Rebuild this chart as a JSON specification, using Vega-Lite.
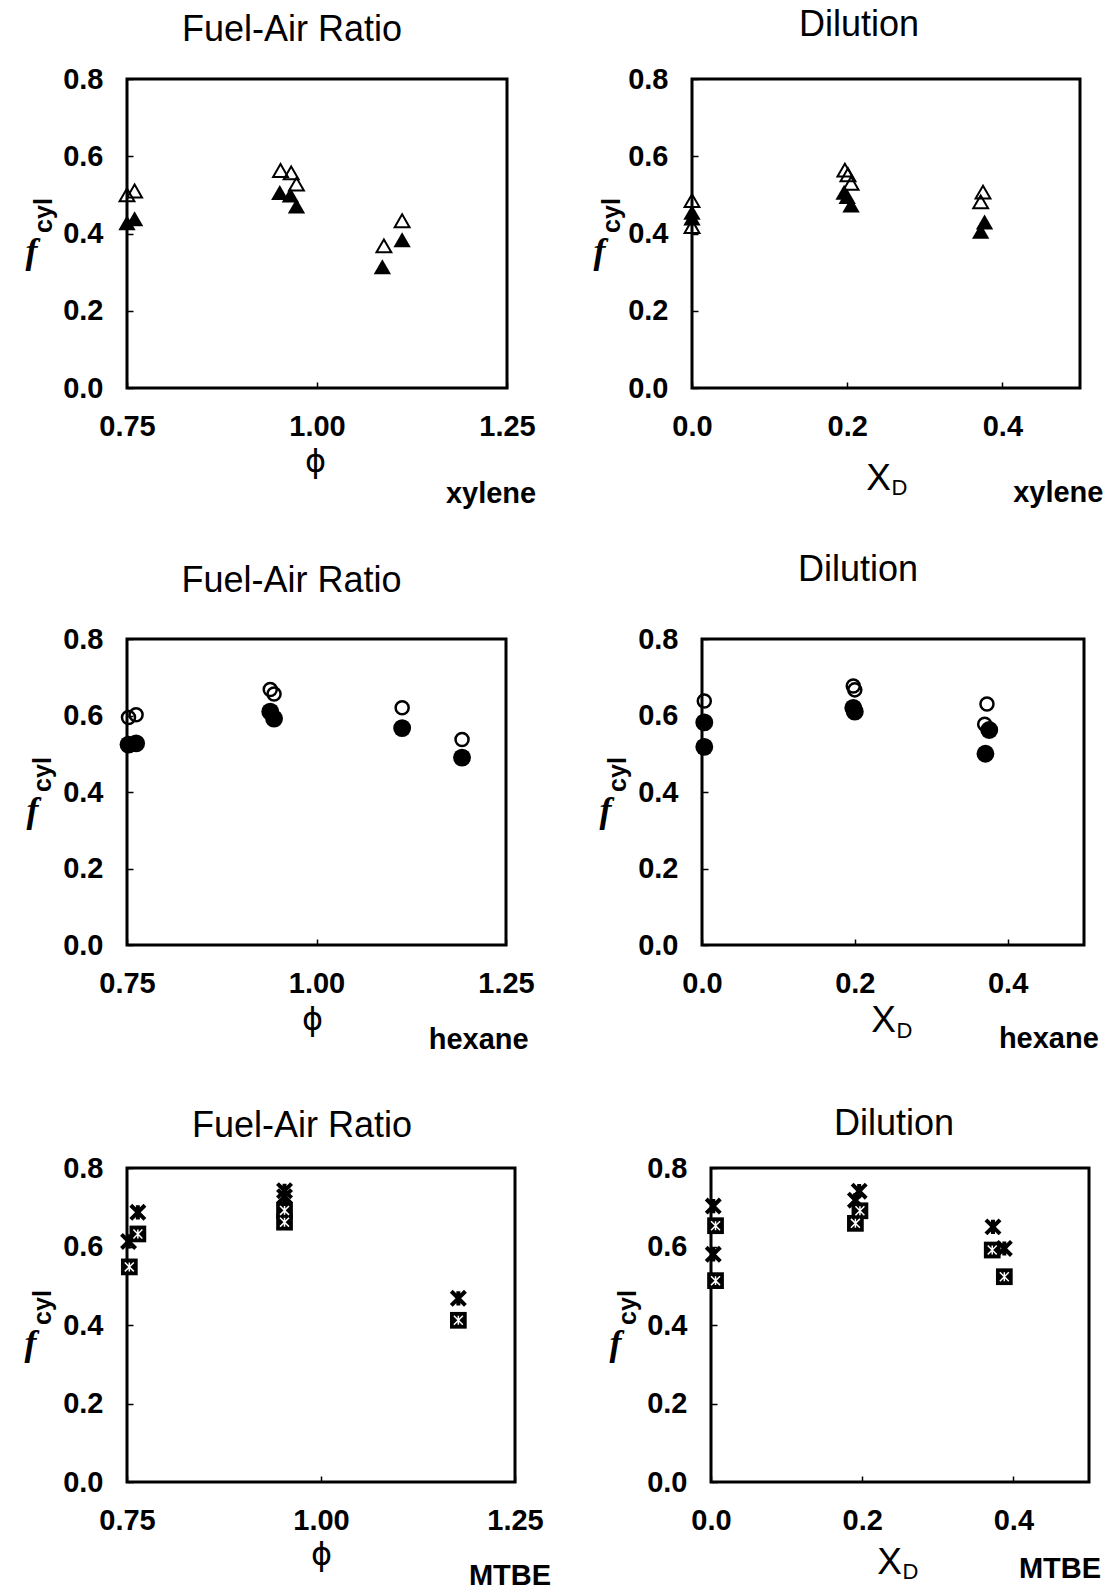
{
  "$schema": "https://vega.github.io/schema/vega-lite/v6.json",
  "background": "white",
  "padding": {"left": 22, "top": 5, "right": 4, "bottom": 4},
  "datasets": {
    "xylene_phi": [
      {"phi": 0.750, "fcyl": 0.500, "set": "open"},
      {"phi": 0.760, "fcyl": 0.510, "set": "open"},
      {"phi": 0.952, "fcyl": 0.563, "set": "open"},
      {"phi": 0.966, "fcyl": 0.557, "set": "open"},
      {"phi": 0.973, "fcyl": 0.528, "set": "open"},
      {"phi": 1.088, "fcyl": 0.368, "set": "open"},
      {"phi": 1.112, "fcyl": 0.433, "set": "open"},
      {"phi": 0.750, "fcyl": 0.428, "set": "filled"},
      {"phi": 0.760, "fcyl": 0.438, "set": "filled"},
      {"phi": 0.951, "fcyl": 0.506, "set": "filled"},
      {"phi": 0.965, "fcyl": 0.500, "set": "filled"},
      {"phi": 0.973, "fcyl": 0.471, "set": "filled"},
      {"phi": 1.086, "fcyl": 0.314, "set": "filled"},
      {"phi": 1.112, "fcyl": 0.384, "set": "filled"}
    ],
    "xylene_xd": [
      {"xd": 0.000, "fcyl": 0.485, "set": "open"},
      {"xd": 0.000, "fcyl": 0.418, "set": "open"},
      {"xd": 0.197, "fcyl": 0.564, "set": "open"},
      {"xd": 0.201, "fcyl": 0.552, "set": "open"},
      {"xd": 0.205, "fcyl": 0.530, "set": "open"},
      {"xd": 0.375, "fcyl": 0.507, "set": "open"},
      {"xd": 0.372, "fcyl": 0.482, "set": "open"},
      {"xd": 0.000, "fcyl": 0.455, "set": "filled"},
      {"xd": 0.000, "fcyl": 0.440, "set": "filled"},
      {"xd": 0.196, "fcyl": 0.507, "set": "filled"},
      {"xd": 0.200, "fcyl": 0.496, "set": "filled"},
      {"xd": 0.205, "fcyl": 0.474, "set": "filled"},
      {"xd": 0.377, "fcyl": 0.430, "set": "filled"},
      {"xd": 0.372, "fcyl": 0.406, "set": "filled"}
    ],
    "hexane_phi": [
      {"phi": 0.752, "fcyl": 0.595, "set": "open"},
      {"phi": 0.762, "fcyl": 0.602, "set": "open"},
      {"phi": 0.939, "fcyl": 0.668, "set": "open"},
      {"phi": 0.944, "fcyl": 0.656, "set": "open"},
      {"phi": 1.113, "fcyl": 0.620, "set": "open"},
      {"phi": 1.192, "fcyl": 0.537, "set": "open"},
      {"phi": 0.752, "fcyl": 0.524, "set": "filled"},
      {"phi": 0.762, "fcyl": 0.527, "set": "filled"},
      {"phi": 0.939, "fcyl": 0.610, "set": "filled"},
      {"phi": 0.944, "fcyl": 0.592, "set": "filled"},
      {"phi": 1.113, "fcyl": 0.567, "set": "filled"},
      {"phi": 1.192, "fcyl": 0.490, "set": "filled"}
    ],
    "hexane_xd": [
      {"xd": 0.003, "fcyl": 0.638, "set": "open"},
      {"xd": 0.198, "fcyl": 0.677, "set": "open"},
      {"xd": 0.200, "fcyl": 0.667, "set": "open"},
      {"xd": 0.373, "fcyl": 0.630, "set": "open"},
      {"xd": 0.370, "fcyl": 0.577, "set": "open"},
      {"xd": 0.003, "fcyl": 0.582, "set": "filled"},
      {"xd": 0.003, "fcyl": 0.518, "set": "filled"},
      {"xd": 0.198, "fcyl": 0.620, "set": "filled"},
      {"xd": 0.200, "fcyl": 0.610, "set": "filled"},
      {"xd": 0.376, "fcyl": 0.562, "set": "filled"},
      {"xd": 0.371, "fcyl": 0.500, "set": "filled"}
    ],
    "mtbe_phi": [
      {"phi": 0.752, "fcyl": 0.613, "set": "star"},
      {"phi": 0.764, "fcyl": 0.687, "set": "star"},
      {"phi": 0.953, "fcyl": 0.742, "set": "star"},
      {"phi": 0.953, "fcyl": 0.727, "set": "star"},
      {"phi": 1.177, "fcyl": 0.468, "set": "star"},
      {"phi": 0.753, "fcyl": 0.548, "set": "square"},
      {"phi": 0.764, "fcyl": 0.632, "set": "square"},
      {"phi": 0.953, "fcyl": 0.692, "set": "square"},
      {"phi": 0.953, "fcyl": 0.662, "set": "square"},
      {"phi": 1.177, "fcyl": 0.412, "set": "square"}
    ],
    "mtbe_xd": [
      {"xd": 0.003, "fcyl": 0.703, "set": "star"},
      {"xd": 0.003, "fcyl": 0.580, "set": "star"},
      {"xd": 0.196, "fcyl": 0.741, "set": "star"},
      {"xd": 0.191, "fcyl": 0.718, "set": "star"},
      {"xd": 0.373, "fcyl": 0.650, "set": "star"},
      {"xd": 0.388, "fcyl": 0.595, "set": "star"},
      {"xd": 0.006, "fcyl": 0.653, "set": "square"},
      {"xd": 0.006, "fcyl": 0.513, "set": "square"},
      {"xd": 0.197, "fcyl": 0.691, "set": "square"},
      {"xd": 0.191, "fcyl": 0.659, "set": "square"},
      {"xd": 0.372, "fcyl": 0.591, "set": "square"},
      {"xd": 0.388, "fcyl": 0.523, "set": "square"}
    ]
  },
  "concat": [
    {
      "concat": [
        {
          "width": 380, "height": 309,
          "title": {"text": "Fuel-Air Ratio", "dx": -25, "offset": 16.5},
          "data": {"name": "xylene_phi"},
          "layer": [
            {
              "transform": [{"filter": "datum.set === 'filled'"}],
              "mark": {"type": "point", "shape": "triangle-up", "filled": true, "color": "#000", "size": 300},
              "encoding": {
                "x": {"field": "phi", "type": "quantitative", "scale": {"domain": [0.75, 1.25], "nice": false, "zero": false},
                      "axis": {"orient": "bottom", "values": [0.75, 1, 1.25], "format": ".2f", "title": "ϕ", "titleFont": "DejaVu Sans", "titleFontSize": 32, "titleFontWeight": "normal", "titleX": 188, "titleY": 73}},
                "y": {"field": "fcyl", "type": "quantitative", "scale": {"domain": [0, 0.8], "nice": false, "zero": false},
                      "axis": {"orient": "left", "values": [0, 0.2, 0.4, 0.6, 0.8], "format": ".1f", "title": "f", "titleFont": "Liberation Serif", "titleFontStyle": "italic", "titleFontWeight": "bold", "titleFontSize": 36, "titleAngle": 0, "titleX": -96, "titleY": 172}}
              }
            },
            {
              "transform": [{"filter": "datum.set === 'open'"}],
              "mark": {"type": "point", "shape": "triangle-up", "filled": false, "color": "#000", "strokeWidth": 2, "size": 220},
              "encoding": {
                "x": {"field": "phi", "type": "quantitative", "scale": {"domain": [0.75, 1.25], "nice": false, "zero": false}, "axis": null},
                "y": {"field": "fcyl", "type": "quantitative", "scale": {"domain": [0, 0.8], "nice": false, "zero": false},
                      "axis": {"orient": "left", "labels": false, "ticks": false, "title": "cyl", "titleFont": "Liberation Sans", "titleFontWeight": "bold", "titleFontSize": 25, "titleAngle": 270, "titleX": -84, "titleY": 136}}
              }
            },
            {
              "data": {"values": [{"fuel": "xylene"}]},
              "mark": {"type": "text", "font": "Liberation Sans", "fontWeight": "bold", "fontSize": 29, "color": "#000"},
              "encoding": {
                "x": {"datum": 1.229, "type": "quantitative", "scale": {"domain": [0.75, 1.25], "nice": false, "zero": false}, "axis": null},
                "y": {"datum": -0.274, "type": "quantitative", "scale": {"domain": [0, 0.8], "nice": false, "zero": false}, "axis": null},
                "text": {"field": "fuel"}
              }
            }
          ],
          "resolve": {"axis": {"x": "independent", "y": "independent"}}
        },
        {
          "width": 388, "height": 309,
          "title": {"text": "Dilution", "dx": -27, "offset": 21.5},
          "data": {"name": "xylene_xd"},
          "layer": [
            {
              "transform": [{"filter": "datum.set === 'filled'"}],
              "mark": {"type": "point", "shape": "triangle-up", "filled": true, "color": "#000", "size": 300},
              "encoding": {
                "x": {"field": "xd", "type": "quantitative", "scale": {"domain": [0, 0.5], "nice": false, "zero": false},
                      "axis": {"orient": "bottom", "values": [0, 0.2, 0.4], "format": ".1f", "title": "X", "titleFont": "Liberation Sans", "titleFontSize": 37, "titleFontWeight": "normal", "titleX": 186, "titleY": 90}},
                "y": {"field": "fcyl", "type": "quantitative", "scale": {"domain": [0, 0.8], "nice": false, "zero": false},
                      "axis": {"orient": "left", "values": [0, 0.2, 0.4, 0.6, 0.8], "format": ".1f", "title": "f", "titleFont": "Liberation Serif", "titleFontStyle": "italic", "titleFontWeight": "bold", "titleFontSize": 36, "titleAngle": 0, "titleX": -93, "titleY": 172}}
              }
            },
            {
              "transform": [{"filter": "datum.set === 'open'"}],
              "mark": {"type": "point", "shape": "triangle-up", "filled": false, "color": "#000", "strokeWidth": 2, "size": 220},
              "encoding": {
                "x": {"field": "xd", "type": "quantitative", "scale": {"domain": [0, 0.5], "nice": false, "zero": false},
                      "axis": {"orient": "bottom", "labels": false, "ticks": false, "title": "D", "titleFont": "Liberation Sans", "titleFontSize": 22, "titleFontWeight": "normal", "titleX": 207, "titleY": 99}},
                "y": {"field": "fcyl", "type": "quantitative", "scale": {"domain": [0, 0.8], "nice": false, "zero": false},
                      "axis": {"orient": "left", "labels": false, "ticks": false, "title": "cyl", "titleFont": "Liberation Sans", "titleFontWeight": "bold", "titleFontSize": 25, "titleAngle": 270, "titleX": -81, "titleY": 136}}
              }
            },
            {
              "data": {"values": [{"fuel": "xylene"}]},
              "mark": {"type": "text", "font": "Liberation Sans", "fontWeight": "bold", "fontSize": 29, "color": "#000"},
              "encoding": {
                "x": {"datum": 0.472, "type": "quantitative", "scale": {"domain": [0, 0.5], "nice": false, "zero": false}, "axis": null},
                "y": {"datum": -0.272, "type": "quantitative", "scale": {"domain": [0, 0.8], "nice": false, "zero": false}, "axis": null},
                "text": {"field": "fuel"}
              }
            }
          ],
          "resolve": {"axis": {"x": "independent", "y": "independent"}}
        }
      ],
      "columns": 2, "spacing": 185, "bounds": "flush", "align": "none"
    },
    {
      "concat": [
        {
          "concat": [
            {
              "width": 379, "height": 306,
              "title": {"text": "Fuel-Air Ratio", "dx": -25, "offset": 25},
              "data": {"name": "hexane_phi"},
              "layer": [
                {
                  "transform": [{"filter": "datum.set === 'filled'"}],
                  "mark": {"type": "point", "shape": "circle", "filled": true, "color": "#000", "size": 320},
                  "encoding": {
                    "x": {"field": "phi", "type": "quantitative", "scale": {"domain": [0.75, 1.25], "nice": false, "zero": false},
                          "axis": {"orient": "bottom", "values": [0.75, 1, 1.25], "format": ".2f", "title": "ϕ", "titleFont": "DejaVu Sans", "titleFontSize": 32, "titleFontWeight": "normal", "titleX": 185, "titleY": 74}},
                    "y": {"field": "fcyl", "type": "quantitative", "scale": {"domain": [0, 0.8], "nice": false, "zero": false},
                          "axis": {"orient": "left", "values": [0, 0.2, 0.4, 0.6, 0.8], "format": ".1f", "title": "f", "titleFont": "Liberation Serif", "titleFontStyle": "italic", "titleFontWeight": "bold", "titleFontSize": 36, "titleAngle": 0, "titleX": -95, "titleY": 171}}
                  }
                },
                {
                  "transform": [{"filter": "datum.set === 'open'"}],
                  "mark": {"type": "point", "shape": "circle", "filled": false, "color": "#000", "strokeWidth": 2.5, "size": 170},
                  "encoding": {
                    "x": {"field": "phi", "type": "quantitative", "scale": {"domain": [0.75, 1.25], "nice": false, "zero": false}, "axis": null},
                    "y": {"field": "fcyl", "type": "quantitative", "scale": {"domain": [0, 0.8], "nice": false, "zero": false},
                          "axis": {"orient": "left", "labels": false, "ticks": false, "title": "cyl", "titleFont": "Liberation Sans", "titleFontWeight": "bold", "titleFontSize": 25, "titleAngle": 270, "titleX": -85, "titleY": 135}}
                  }
                },
                {
                  "data": {"values": [{"fuel": "hexane"}]},
                  "mark": {"type": "text", "font": "Liberation Sans", "fontWeight": "bold", "fontSize": 29, "color": "#000"},
                  "encoding": {
                    "x": {"datum": 1.214, "type": "quantitative", "scale": {"domain": [0.75, 1.25], "nice": false, "zero": false}, "axis": null},
                    "y": {"datum": -0.2475, "type": "quantitative", "scale": {"domain": [0, 0.8], "nice": false, "zero": false}, "axis": null},
                    "text": {"field": "fuel"}
                  }
                }
              ],
              "resolve": {"axis": {"x": "independent", "y": "independent"}}
            },
            {
              "width": 382, "height": 306,
              "title": {"text": "Dilution", "dx": -35, "offset": 36},
              "data": {"name": "hexane_xd"},
              "layer": [
                {
                  "transform": [{"filter": "datum.set === 'filled'"}],
                  "mark": {"type": "point", "shape": "circle", "filled": true, "color": "#000", "size": 320},
                  "encoding": {
                    "x": {"field": "xd", "type": "quantitative", "scale": {"domain": [0, 0.5], "nice": false, "zero": false},
                          "axis": {"orient": "bottom", "values": [0, 0.2, 0.4], "format": ".1f", "title": "X", "titleFont": "Liberation Sans", "titleFontSize": 37, "titleFontWeight": "normal", "titleX": 181, "titleY": 75}},
                    "y": {"field": "fcyl", "type": "quantitative", "scale": {"domain": [0, 0.8], "nice": false, "zero": false},
                          "axis": {"orient": "left", "values": [0, 0.2, 0.4, 0.6, 0.8], "format": ".1f", "title": "f", "titleFont": "Liberation Serif", "titleFontStyle": "italic", "titleFontWeight": "bold", "titleFontSize": 36, "titleAngle": 0, "titleX": -97, "titleY": 171}}
                  }
                },
                {
                  "transform": [{"filter": "datum.set === 'open'"}],
                  "mark": {"type": "point", "shape": "circle", "filled": false, "color": "#000", "strokeWidth": 2.5, "size": 170},
                  "encoding": {
                    "x": {"field": "xd", "type": "quantitative", "scale": {"domain": [0, 0.5], "nice": false, "zero": false},
                          "axis": {"orient": "bottom", "labels": false, "ticks": false, "title": "D", "titleFont": "Liberation Sans", "titleFontSize": 22, "titleFontWeight": "normal", "titleX": 202, "titleY": 85}},
                    "y": {"field": "fcyl", "type": "quantitative", "scale": {"domain": [0, 0.8], "nice": false, "zero": false},
                          "axis": {"orient": "left", "labels": false, "ticks": false, "title": "cyl", "titleFont": "Liberation Sans", "titleFontWeight": "bold", "titleFontSize": 25, "titleAngle": 270, "titleX": -85, "titleY": 135}}
                  }
                },
                {
                  "data": {"values": [{"fuel": "hexane"}]},
                  "mark": {"type": "text", "font": "Liberation Sans", "fontWeight": "bold", "fontSize": 29, "color": "#000"},
                  "encoding": {
                    "x": {"datum": 0.454, "type": "quantitative", "scale": {"domain": [0, 0.5], "nice": false, "zero": false}, "axis": null},
                    "y": {"datum": -0.2445, "type": "quantitative", "scale": {"domain": [0, 0.8], "nice": false, "zero": false}, "axis": null},
                    "text": {"field": "fuel"}
                  }
                }
              ],
              "resolve": {"axis": {"x": "independent", "y": "independent"}}
            }
          ],
          "columns": 2, "spacing": 196, "bounds": "flush", "align": "none"
        },
        {
          "concat": [
            {
              "width": 388, "height": 314,
              "title": {"text": "Fuel-Air Ratio", "dx": -19, "offset": 9},
              "data": {"name": "mtbe_phi"},
              "layer": [
                {
                  "transform": [{"filter": "datum.set === 'star'"}],
                  "mark": {"type": "point", "shape": "M-1,-1L1,1M1,-1L-1,1M0,-1L0,1", "filled": false, "color": "#000", "strokeWidth": 4, "size": 200},
                  "encoding": {
                    "x": {"field": "phi", "type": "quantitative", "scale": {"domain": [0.75, 1.25], "nice": false, "zero": false},
                          "axis": {"orient": "bottom", "values": [0.75, 1, 1.25], "format": ".2f", "title": "ϕ", "titleFont": "DejaVu Sans", "titleFontSize": 32, "titleFontWeight": "normal", "titleX": 194, "titleY": 72}},
                    "y": {"field": "fcyl", "type": "quantitative", "scale": {"domain": [0, 0.8], "nice": false, "zero": false},
                          "axis": {"orient": "left", "values": [0, 0.2, 0.4, 0.6, 0.8], "format": ".1f", "title": "f", "titleFont": "Liberation Serif", "titleFontStyle": "italic", "titleFontWeight": "bold", "titleFontSize": 36, "titleAngle": 0, "titleX": -97, "titleY": 175}}
                  }
                },
                {
                  "transform": [{"filter": "datum.set === 'square'"}],
                  "mark": {"type": "point", "shape": "square", "filled": true, "color": "#000", "size": 280},
                  "encoding": {
                    "x": {"field": "phi", "type": "quantitative", "scale": {"domain": [0.75, 1.25], "nice": false, "zero": false}, "axis": null},
                    "y": {"field": "fcyl", "type": "quantitative", "scale": {"domain": [0, 0.8], "nice": false, "zero": false},
                          "axis": {"orient": "left", "labels": false, "ticks": false, "title": "cyl", "titleFont": "Liberation Sans", "titleFontWeight": "bold", "titleFontSize": 25, "titleAngle": 270, "titleX": -85, "titleY": 139}}
                  }
                },
                {
                  "transform": [{"filter": "datum.set === 'square'"}],
                  "mark": {"type": "point", "shape": "M-1,-1L1,1M1,-1L-1,1M0,-1L0,1", "filled": false, "color": "#fff", "strokeWidth": 1.5, "size": 80},
                  "encoding": {
                    "x": {"field": "phi", "type": "quantitative", "scale": {"domain": [0.75, 1.25], "nice": false, "zero": false}, "axis": null},
                    "y": {"field": "fcyl", "type": "quantitative", "scale": {"domain": [0, 0.8], "nice": false, "zero": false}, "axis": null}
                  }
                },
                {
                  "data": {"values": [{"fuel": "MTBE"}]},
                  "mark": {"type": "text", "font": "Liberation Sans", "fontWeight": "bold", "fontSize": 29, "color": "#000"},
                  "encoding": {
                    "x": {"datum": 1.2436, "type": "quantitative", "scale": {"domain": [0.75, 1.25], "nice": false, "zero": false}, "axis": null},
                    "y": {"datum": -0.240, "type": "quantitative", "scale": {"domain": [0, 0.8], "nice": false, "zero": false}, "axis": null},
                    "text": {"field": "fuel"}
                  }
                }
              ],
              "resolve": {"axis": {"x": "independent", "y": "independent"}}
            },
            {
              "width": 378, "height": 314,
              "title": {"text": "Dilution", "dx": -6, "offset": 11},
              "data": {"name": "mtbe_xd"},
              "layer": [
                {
                  "transform": [{"filter": "datum.set === 'star'"}],
                  "mark": {"type": "point", "shape": "M-1,-1L1,1M1,-1L-1,1M0,-1L0,1", "filled": false, "color": "#000", "strokeWidth": 4, "size": 200},
                  "encoding": {
                    "x": {"field": "xd", "type": "quantitative", "scale": {"domain": [0, 0.5], "nice": false, "zero": false},
                          "axis": {"orient": "bottom", "values": [0, 0.2, 0.4], "format": ".1f", "title": "X", "titleFont": "Liberation Sans", "titleFontSize": 37, "titleFontWeight": "normal", "titleX": 178, "titleY": 80}},
                    "y": {"field": "fcyl", "type": "quantitative", "scale": {"domain": [0, 0.8], "nice": false, "zero": false},
                          "axis": {"orient": "left", "values": [0, 0.2, 0.4, 0.6, 0.8], "format": ".1f", "title": "f", "titleFont": "Liberation Serif", "titleFontStyle": "italic", "titleFontWeight": "bold", "titleFontSize": 36, "titleAngle": 0, "titleX": -96, "titleY": 175}}
                  }
                },
                {
                  "transform": [{"filter": "datum.set === 'square'"}],
                  "mark": {"type": "point", "shape": "square", "filled": true, "color": "#000", "size": 280},
                  "encoding": {
                    "x": {"field": "xd", "type": "quantitative", "scale": {"domain": [0, 0.5], "nice": false, "zero": false},
                          "axis": {"orient": "bottom", "labels": false, "ticks": false, "title": "D", "titleFont": "Liberation Sans", "titleFontSize": 22, "titleFontWeight": "normal", "titleX": 199, "titleY": 89}},
                    "y": {"field": "fcyl", "type": "quantitative", "scale": {"domain": [0, 0.8], "nice": false, "zero": false},
                          "axis": {"orient": "left", "labels": false, "ticks": false, "title": "cyl", "titleFont": "Liberation Sans", "titleFontWeight": "bold", "titleFontSize": 25, "titleAngle": 270, "titleX": -84, "titleY": 139}}
                  }
                },
                {
                  "transform": [{"filter": "datum.set === 'square'"}],
                  "mark": {"type": "point", "shape": "M-1,-1L1,1M1,-1L-1,1M0,-1L0,1", "filled": false, "color": "#fff", "strokeWidth": 1.5, "size": 80},
                  "encoding": {
                    "x": {"field": "xd", "type": "quantitative", "scale": {"domain": [0, 0.5], "nice": false, "zero": false}, "axis": null},
                    "y": {"field": "fcyl", "type": "quantitative", "scale": {"domain": [0, 0.8], "nice": false, "zero": false}, "axis": null}
                  }
                },
                {
                  "data": {"values": [{"fuel": "MTBE"}]},
                  "mark": {"type": "text", "font": "Liberation Sans", "fontWeight": "bold", "fontSize": 29, "color": "#000"},
                  "encoding": {
                    "x": {"datum": 0.4616, "type": "quantitative", "scale": {"domain": [0, 0.5], "nice": false, "zero": false}, "axis": null},
                    "y": {"datum": -0.222, "type": "quantitative", "scale": {"domain": [0, 0.8], "nice": false, "zero": false}, "axis": null},
                    "text": {"field": "fuel"}
                  }
                }
              ],
              "resolve": {"axis": {"x": "independent", "y": "independent"}}
            }
          ],
          "columns": 2, "spacing": 196, "bounds": "flush", "align": "none"
        }
      ],
      "columns": 1, "spacing": 47, "bounds": "full", "align": "none"
    }
  ],
  "columns": 1,
  "spacing": 39,
  "bounds": "full",
  "align": "none",
  "config": {
    "view": {"stroke": "#000", "strokeWidth": 3},
    "font": "Liberation Sans",
    "title": {"font": "Liberation Sans", "fontSize": 36, "fontWeight": "normal", "color": "#000", "anchor": "middle", "frame": "group"},
    "axis": {
      "grid": false, "domain": false,
      "labelFont": "Liberation Sans", "labelFontWeight": "bold", "labelFontSize": 29, "labelColor": "#000",
      "labelPadding": 30, "labelFlush": false, "labelOverlap": false,
      "tickSize": -6, "tickWidth": 1.5, "tickColor": "#000",
      "titleColor": "#000", "titleAlign": "center", "titleBaseline": "middle"
    },
    "point": {"opacity": 1}
  }
}
